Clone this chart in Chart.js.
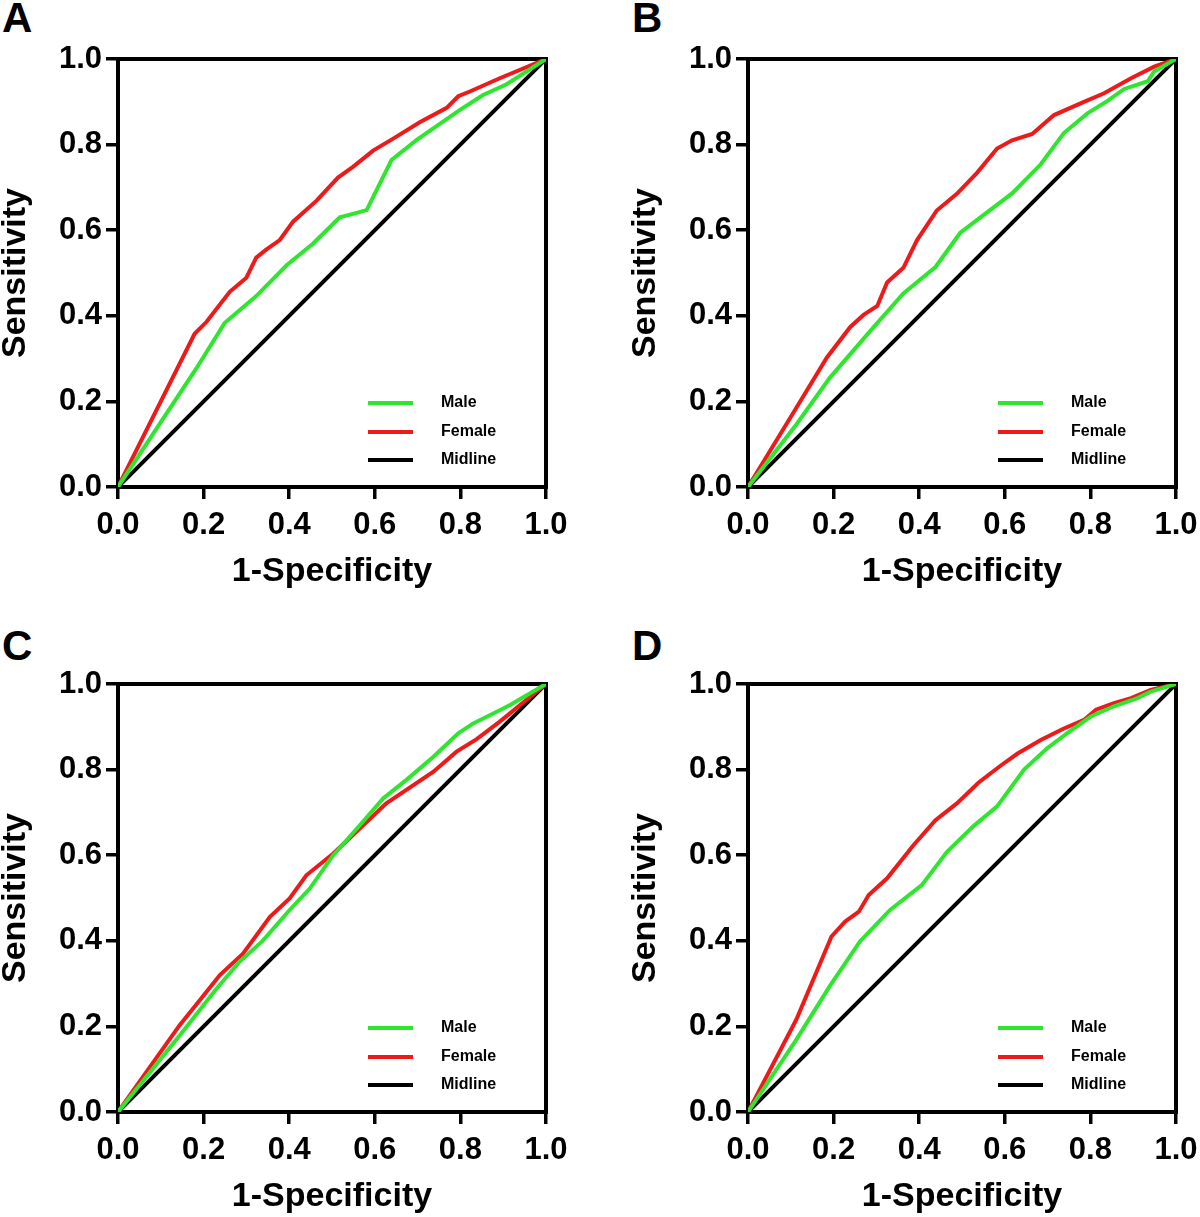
<!DOCTYPE html>
<html>
<head>
<meta charset="utf-8">
<script src="https://cdn.jsdelivr.net/npm/chart.js@4.4.1/dist/chart.umd.min.js"></script>
<style>
  html, body { margin: 0; padding: 0; background: #fff; overflow: hidden; }
  .panel { position: absolute; width: 570px; height: 592px; }
  .letter { position: absolute; font: bold 42px 'Liberation Sans', Arial, sans-serif; line-height: 1; color: #000; }
</style>
</head>
<body>
<div class="letter" style="left:2px;top:-3px">A</div>
<div class="letter" style="left:632px;top:-3px">B</div>
<div class="letter" style="left:2px;top:625px">C</div>
<div class="letter" style="left:632px;top:625px">D</div>

<div class="panel" style="left:0;top:0"><canvas id="chartA" width="570" height="592"></canvas></div>
<div class="panel" style="left:630px;top:0"><canvas id="chartB" width="570" height="592"></canvas></div>
<div class="panel" style="left:0;top:625px"><canvas id="chartC" width="570" height="592"></canvas></div>
<div class="panel" style="left:630px;top:625px"><canvas id="chartD" width="570" height="592"></canvas></div>

<script>
// tick labels and legend
const tickValues = [0, 0.2, 0.4, 0.6, 0.8, 1.0];
const legendLabels = ['Male', 'Female', 'Midline'];
const xTitle = '1-Specificity';
const yTitle = 'Sensitivity';

// reference line
const midX = [0, 1];
const midY = [0, 1];

// panel A
const maleA_x = [0, 0.183, 0.249, 0.284, 0.323, 0.394, 0.456, 0.518, 0.549, 0.581, 0.639, 0.698, 0.799, 0.853, 0.908, 1];
const maleA_y = [0, 0.277, 0.383, 0.413, 0.446, 0.518, 0.569, 0.630, 0.638, 0.647, 0.764, 0.811, 0.881, 0.916, 0.941, 1];
const femaleA_x = [0, 0.179, 0.207, 0.261, 0.300, 0.323, 0.347, 0.378, 0.409, 0.464, 0.514, 0.549, 0.596, 0.643, 0.705, 0.768, 0.795, 0.822, 0.892, 1];
const femaleA_y = [0, 0.358, 0.386, 0.456, 0.489, 0.536, 0.555, 0.577, 0.620, 0.669, 0.723, 0.748, 0.786, 0.814, 0.852, 0.886, 0.913, 0.924, 0.955, 1];

// panel B
const maleB_x = [0, 0.113, 0.191, 0.293, 0.363, 0.438, 0.496, 0.617, 0.684, 0.738, 0.793, 0.840, 0.879, 0.934, 0.949, 1];
const maleB_y = [0, 0.146, 0.255, 0.373, 0.452, 0.514, 0.594, 0.686, 0.754, 0.827, 0.873, 0.902, 0.930, 0.948, 0.971, 1];
const femaleB_x = [0, 0.113, 0.184, 0.239, 0.270, 0.302, 0.325, 0.363, 0.395, 0.441, 0.488, 0.535, 0.582, 0.617, 0.664, 0.715, 0.785, 0.832, 0.895, 0.949, 1];
const femaleB_y = [0, 0.185, 0.302, 0.374, 0.402, 0.423, 0.478, 0.512, 0.577, 0.646, 0.685, 0.734, 0.791, 0.810, 0.825, 0.869, 0.900, 0.920, 0.955, 0.982, 1];

// panel C
const maleC_x = [0, 0.144, 0.230, 0.284, 0.339, 0.401, 0.448, 0.503, 0.565, 0.620, 0.674, 0.737, 0.795, 0.830, 0.885, 0.916, 1];
const maleC_y = [0, 0.179, 0.288, 0.351, 0.401, 0.472, 0.522, 0.600, 0.670, 0.733, 0.776, 0.830, 0.885, 0.908, 0.935, 0.951, 1];
const femaleC_x = [0, 0.144, 0.191, 0.238, 0.292, 0.355, 0.401, 0.440, 0.503, 0.549, 0.627, 0.737, 0.791, 0.838, 0.892, 1];
const femaleC_y = [0, 0.203, 0.261, 0.320, 0.370, 0.456, 0.499, 0.553, 0.604, 0.647, 0.721, 0.795, 0.842, 0.871, 0.912, 1];

// panel D
const maleD_x = [0, 0.113, 0.191, 0.262, 0.332, 0.406, 0.465, 0.527, 0.582, 0.645, 0.699, 0.746, 0.801, 0.855, 0.910, 0.941, 1];
const maleD_y = [0, 0.169, 0.294, 0.399, 0.472, 0.530, 0.608, 0.668, 0.714, 0.800, 0.850, 0.885, 0.924, 0.948, 0.967, 0.982, 1];
const femaleD_x = [0, 0.113, 0.195, 0.227, 0.259, 0.282, 0.325, 0.387, 0.438, 0.488, 0.539, 0.590, 0.629, 0.684, 0.738, 0.785, 0.813, 0.855, 0.895, 0.941, 1];
const femaleD_y = [0, 0.216, 0.410, 0.445, 0.468, 0.507, 0.546, 0.624, 0.682, 0.721, 0.770, 0.809, 0.837, 0.869, 0.896, 0.916, 0.940, 0.955, 0.967, 0.986, 1];

const FONT = "'Liberation Sans', Arial, Helvetica, sans-serif";
const GREEN = '#2ee62e';
const RED = '#ee1a1a';
const BLACK = '#000000';

function toPoints(xs, ys) {
  return xs.map((x, i) => ({ x: x, y: ys[i] }));
}

// box around the plot area
const framePlugin = {
  id: 'frame',
  beforeDatasetsDraw(chart) {
    const a = chart.chartArea;
    const ctx = chart.ctx;
    ctx.save();
    ctx.strokeStyle = BLACK;
    ctx.lineWidth = 4;
    ctx.strokeRect(a.left, a.top, a.right - a.left, a.bottom - a.top);
    ctx.restore();
  }
};

// legend drawn inside the plot, bottom right
const insideLegend = {
  id: 'insideLegend',
  afterDraw(chart) {
    const a = chart.chartArea;
    const ctx = chart.ctx;
    const rows = [84, 55, 27];
    ctx.save();
    chart.data.datasets.forEach((ds, i) => {
      const y = a.bottom - rows[i];
      ctx.strokeStyle = ds.borderColor;
      ctx.lineWidth = 4;
      ctx.beginPath();
      ctx.moveTo(a.left + 250, y);
      ctx.lineTo(a.left + 295, y);
      ctx.stroke();
      ctx.fillStyle = BLACK;
      ctx.font = 'bold 16px ' + FONT;
      ctx.textBaseline = 'middle';
      ctx.textAlign = 'left';
      ctx.fillText(ds.label, a.left + 323, y);
    });
    ctx.restore();
  }
};

function makeChart(id, maleX, maleY, femaleX, femaleY) {
  const ctx = document.getElementById(id).getContext('2d');
  const axisBase = {
    type: 'linear',
    min: 0,
    max: 1,
    afterBuildTicks: scale => { scale.ticks = tickValues.map(v => ({ value: v })); },
    grid: { drawOnChartArea: false, drawTicks: true, tickLength: 12, lineWidth: 3.5, color: BLACK },
    border: { display: false }
  };
  return new Chart(ctx, {
    type: 'scatter',
    data: {
      datasets: [
        { label: legendLabels[0], data: toPoints(maleX, maleY), borderColor: GREEN },
        { label: legendLabels[1], data: toPoints(femaleX, femaleY), borderColor: RED },
        { label: legendLabels[2], data: toPoints(midX, midY), borderColor: BLACK }
      ].map(ds => Object.assign(ds, { showLine: true, pointRadius: 0, borderWidth: 4, tension: 0, fill: false }))
    },
    options: {
      responsive: false,
      animation: false,
      layout: { padding: { top: 59, right: 24, left: 0, bottom: 0 } },
      plugins: { legend: { display: false }, tooltip: { enabled: false } },
      scales: {
        x: Object.assign({}, axisBase, {
          position: 'bottom',
          afterFit: scale => { scale.height = 105; scale.paddingLeft = 0; scale.paddingRight = 0; },
          ticks: { color: BLACK, padding: 8, font: { family: FONT, size: 31, weight: 'bold' }, callback: v => v.toFixed(1) },
          title: { display: true, text: xTitle, color: BLACK, padding: 0, font: { family: FONT, size: 34, weight: 'bold', lineHeight: 1.2 } }
        }),
        y: Object.assign({}, axisBase, {
          position: 'left',
          afterFit: scale => { scale.width = 118; scale.paddingTop = 0; scale.paddingBottom = 0; },
          ticks: { color: BLACK, padding: 4, font: { family: FONT, size: 31, weight: 'bold' }, callback: v => v.toFixed(1) },
          title: { display: true, text: yTitle, color: BLACK, padding: 0, font: { family: FONT, size: 34, weight: 'bold', lineHeight: 0.9 } }
        })
      }
    },
    plugins: [framePlugin, insideLegend]
  });
}

makeChart('chartA', maleA_x, maleA_y, femaleA_x, femaleA_y);
makeChart('chartB', maleB_x, maleB_y, femaleB_x, femaleB_y);
makeChart('chartC', maleC_x, maleC_y, femaleC_x, femaleC_y);
makeChart('chartD', maleD_x, maleD_y, femaleD_x, femaleD_y);
</script>
</body>
</html>
